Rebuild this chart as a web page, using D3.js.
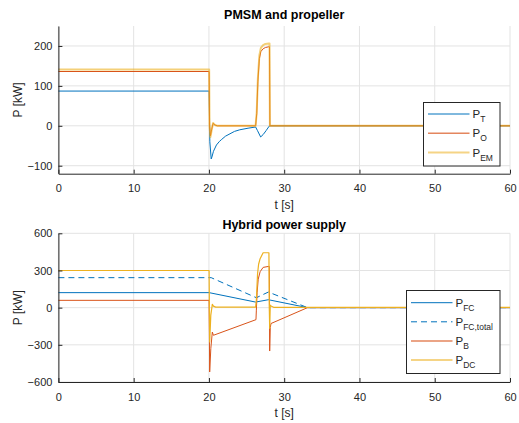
<!DOCTYPE html>
<html>
<head>
<meta charset="utf-8">
<script src="https://cdn.jsdelivr.net/npm/d3@7"></script>
<style>
  html, body { margin: 0; padding: 0; background: #fff; }
  svg { display: block; font-family: "Liberation Sans", Arial, Helvetica, sans-serif; }
</style>
</head>
<body>
<svg id="chart" width="519" height="423"></svg>
<script>
// ---- Data: time [s] and power [kW] ----
const xTicks = [0, 10, 20, 30, 40, 50, 60];
const topYTicks = [-100, 0, 100, 200];
const botYTicks = [-600, -300, 0, 300, 600];

// PMSM and propeller
const tT  = [0, 20.03, 20.12, 20.3, 20.4, 20.6, 21.0, 21.4, 21.7, 22.2, 22.8, 23.4, 24.1, 25.2, 26.2, 26.45, 26.87, 27.2, 27.6, 28.0, 28.1, 60];
const pT  = [87, 87, -40, -83, -78, -64, -48, -39, -34, -26, -20, -14, -10, -6, -3, -12, -28, -22, -12, -1, 0, 0];

const tO  = [0, 20.03, 20.08, 20.2, 20.35, 20.55, 20.8, 21.1, 26.2, 26.35, 26.5, 26.7, 26.9, 27.2, 27.5, 27.95, 28.05, 28.1, 60];
const pO  = [136, 136, 0, -25, -10, 6, 2, 0, 0, 30, 110, 168, 186, 193, 196, 198, 198, 0, 0];
const pEM = [141, 141, 0, -28, -12, 7, 2, 0, 0, 34, 118, 176, 195, 202, 205, 206, 206, 0, 0];

// Hybrid power supply
const tFC   = [0, 20.03, 26.2, 27.9, 33.1, 60];
const pFC   = [121, 121, 45, 64, 0, 0];
const tFCt  = [0, 20.3, 26.3, 27.9, 33.1, 60];
const pFCt  = [242, 242, 80, 126, 0, 0];

const tB = [0, 20.02, 20.1, 20.25, 20.45, 20.6, 26.25, 26.3, 26.4, 26.55, 26.8, 27.2, 27.95, 28.02, 28.07, 28.15, 28.25, 33.1, 60];
const pB = [59, 59, -519, -330, -197, -223, -97, -20, 120, 230, 290, 325, 333, 333, -350, -160, -128, 0, 0];

const tDC = [0, 20.02, 20.1, 20.25, 20.45, 20.6, 20.9, 26.2, 26.3, 26.46, 26.6, 26.8, 27.2, 27.97, 28.02, 28.07, 28.15, 28.3, 28.6, 60];
const pDC = [300, 300, -277, -60, 27, 12, 4, 4, 60, 274, 350, 395, 443, 443, 0, -167, 20, 12, 3, 3];

// ---- Styling ----
const C_BLUE = "#0072BD", C_RED = "#D95319", C_YEL = "#EDB120";
const AX = "#262626", GRID = "#e3e3e3";

const svg = d3.select("#chart");
const x = d3.scaleLinear().domain([0, 60]).range([58.4, 510]);

function zip(ts, vs) { return ts.map((t, i) => [t, vs[i]]); }

function panel(cfg) {
  const y = d3.scaleLinear().domain(cfg.yDomain).range([cfg.bottom, cfg.top]);
  const g = svg.append("g");

  // grid
  g.selectAll(".gx").data(xTicks).join("line")
    .attr("x1", d => x(d)).attr("x2", d => x(d))
    .attr("y1", cfg.top).attr("y2", cfg.bottom)
    .attr("stroke", GRID).attr("stroke-width", 1);
  g.selectAll(".gy").data(cfg.yTicks).join("line")
    .attr("x1", x.range()[0]).attr("x2", x.range()[1])
    .attr("y1", d => y(d)).attr("y2", d => y(d))
    .attr("stroke", GRID).attr("stroke-width", 1);

  // series
  const line = d3.line().x(d => x(d[0])).y(d => y(d[1]));
  cfg.series.forEach(s => {
    g.append("path").datum(zip(s.t, s.v))
      .attr("d", line).attr("fill", "none")
      .attr("stroke", s.color).attr("stroke-width", s.width || 1)
      .attr("stroke-opacity", s.opacity || 1)
      .attr("stroke-dasharray", s.dash || null)
      .attr("stroke-linejoin", "round");
  });

  // axes (ticks point inward)
  const xa = g.append("g").attr("transform", `translate(0,${cfg.bottom})`)
    .call(d3.axisBottom(x).tickValues(xTicks).tickSizeInner(-4).tickSizeOuter(0).tickPadding(11));
  const ya = g.append("g").attr("transform", `translate(${x.range()[0]},0)`)
    .call(d3.axisLeft(y).tickValues(cfg.yTicks).tickSizeInner(-4).tickSizeOuter(0).tickPadding(6));
  [xa, ya].forEach(a => {
    a.select(".domain").attr("stroke", AX);
    a.selectAll(".tick line").attr("stroke", AX);
    a.selectAll(".tick text").attr("fill", AX).attr("font-size", 11)
      .attr("font-family", "'Liberation Sans', Arial, sans-serif");
  });

  // labels
  g.append("text").attr("x", (x.range()[0] + x.range()[1]) / 2).attr("y", cfg.bottom + 35)
    .attr("text-anchor", "middle").attr("font-size", 12).attr("fill", AX).text("t [s]");
  g.append("text")
    .attr("transform", `translate(22,${(cfg.top + cfg.bottom) / 2}) rotate(-90)`)
    .attr("text-anchor", "middle").attr("font-size", 12).attr("fill", AX).text("P [kW]");
  g.append("text").attr("x", (x.range()[0] + x.range()[1]) / 2).attr("y", cfg.titleY)
    .attr("text-anchor", "middle").attr("font-size", 12.5).attr("font-weight", "bold")
    .attr("fill", "#000").text(cfg.title);

  // legend
  const L = cfg.legend;
  const lg = g.append("g");
  lg.append("rect").attr("x", L.x).attr("y", L.y).attr("width", L.w).attr("height", L.h)
    .attr("fill", "#fff").attr("stroke", AX).attr("stroke-width", 1);
  L.items.forEach((it, i) => {
    const cy = L.y0 + i * L.dy;
    lg.append("line").attr("x1", L.x + 4.5).attr("x2", L.x + 46)
      .attr("y1", cy).attr("y2", cy)
      .attr("stroke", it.color).attr("stroke-width", it.lw || 1)
      .attr("stroke-opacity", it.lop || 1)
      .attr("stroke-dasharray", it.dash || null);
    const t = lg.append("text").attr("x", L.x + 49).attr("y", cy + 4)
      .attr("font-size", 11.5).attr("fill", AX);
    t.append("tspan").text("P");
    t.append("tspan").attr("font-size", 8.5).attr("dy", 4).text(it.sub);
  });
}

panel({
  top: 26, bottom: 173.7, yDomain: [-120, 250], yTicks: topYTicks,
  title: "PMSM and propeller", titleY: 19,
  series: [
    { t: tT, v: pT, color: C_BLUE },
    { t: tO, v: pO, color: C_RED },
    { t: tO, v: pEM, color: C_YEL, width: 2, opacity: 0.6 }
  ],
  legend: { x: 423.5, y: 102.5, w: 76.5, h: 63.5, y0: 114, dy: 19.3,
    items: [
      { sub: "T", color: C_BLUE },
      { sub: "O", color: C_RED, lw: 1.5, lop: 0.7 },
      { sub: "EM", color: C_YEL, lw: 2, lop: 0.55 }
    ] }
});

panel({
  top: 233.3, bottom: 382, yDomain: [-600, 600], yTicks: botYTicks,
  title: "Hybrid power supply", titleY: 228.5,
  series: [
    { t: tFC, v: pFC, color: C_BLUE },
    { t: tFCt, v: pFCt, color: C_BLUE, dash: "6,4" },
    { t: tB, v: pB, color: C_RED },
    { t: tDC, v: pDC, color: C_YEL, width: 1.2 }
  ],
  legend: { x: 406.5, y: 290.5, w: 93.5, h: 83, y0: 302.7, dy: 19.1,
    items: [
      { sub: "FC", color: C_BLUE },
      { sub: "FC,total", color: C_BLUE, dash: "6,4" },
      { sub: "B", color: C_RED, lw: 1.5, lop: 0.7 },
      { sub: "DC", color: C_YEL, lw: 2, lop: 0.55 }
    ] }
});
</script>
</body>
</html>
